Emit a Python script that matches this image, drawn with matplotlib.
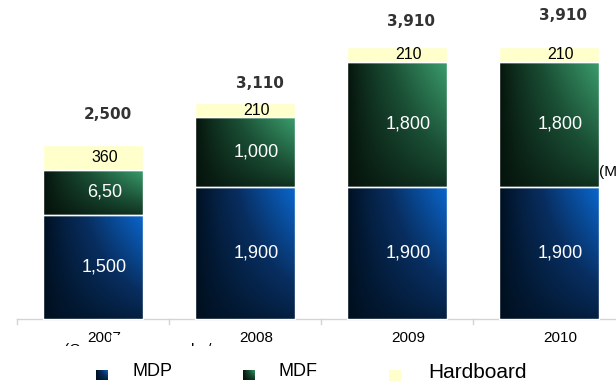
import matplotlib
matplotlib.use("Agg")
import matplotlib.pyplot as plt
import numpy as np
from matplotlib.colors import LinearSegmentedColormap
from matplotlib.patches import Rectangle

YEARS = ["2007", "2008", "2009", "2010"]
MDP = [1500, 1900, 1900, 1900]
MDF = [650, 1000, 1800, 1800]
HARDBOARD = [360, 210, 210, 210]
MDP_LABELS = ["1,500", "1,900", "1,900", "1,900"]
MDF_LABELS = ["6,50", "1,000", "1,800", "1,800"]
HB_LABELS = ["360", "210", "210", "210"]
TOTAL_LABELS = ["2,500", "3,110", "3,910", "3,910"]

# layout (pixels of the 616x382 canvas)
K = 0.0695            # px per unit
BASE = 319            # baseline row
STEP, X0, BAR_W = 152, 92.5, 100
TOTAL_PAD = [30, 19, 26, 32]
TXT_DX = 12

MDP_CMAP = LinearSegmentedColormap.from_list("mdp", ["#000f1e", "#082e60", "#0a66cc"])
MDF_CMAP = LinearSegmentedColormap.from_list("mdf", ["#05120b", "#1a4e34", "#3a9c6c"])
HB_COLOR = "#ffffcc"


def px(dy):
    """pixel distance -> data units"""
    return dy / K


def gradient():
    xf = np.linspace(0, 1, 80)[None, :]
    yf = np.linspace(0, 1, 80)[:, None]
    return (xf ** 0.8) * (0.25 + 0.75 * yf ** 0.8)


def grad_box(ax, x, y, w, h, cmap, edge="white"):
    rect = Rectangle((x, y), w, h, facecolor="none", edgecolor=edge, linewidth=1.0, zorder=3)
    ax.add_patch(rect)
    im = ax.imshow(gradient(), cmap=cmap, origin="lower", extent=(x, x + w, y, y + h),
                   aspect="auto", vmin=0, vmax=1, zorder=2, interpolation="bilinear")
    im.set_clip_path(rect)


fig = plt.figure(figsize=(6.16, 3.82), dpi=100)
ax = fig.add_axes([0, 0, 1, 1])
ax.axis("off")

centers = X0 + STEP * np.arange(len(YEARS))
sans = "Liberation Sans"

for i, c in enumerate(centers):
    left = c - BAR_W / 2
    grad_box(ax, left, 0, BAR_W, MDP[i], MDP_CMAP)
    grad_box(ax, left, MDP[i], BAR_W, MDF[i], MDF_CMAP)
    ax.add_patch(Rectangle((left, MDP[i] + MDF[i]), BAR_W, HARDBOARD[i],
                           facecolor=HB_COLOR, edgecolor="white", linewidth=1.0, zorder=3))
    tx = c + TXT_DX
    ax.text(tx, MDP[i] / 2, MDP_LABELS[i], ha="center", va="center",
            color="white", fontsize=13, family=sans, zorder=5)
    ax.text(tx, MDP[i] + MDF[i] / 2, MDF_LABELS[i], ha="center", va="center",
            color="white", fontsize=13, family=sans, zorder=5)
    ax.text(tx, MDP[i] + MDF[i] + HARDBOARD[i] / 2, HB_LABELS[i], ha="center", va="center",
            color="black", fontsize=11.5, family=sans, zorder=5)
    top = MDP[i] + MDF[i] + HARDBOARD[i]
    ax.text(c + 15, top + px(TOTAL_PAD[i]), TOTAL_LABELS[i], ha="center", va="center",
            color="#333333", fontsize=11, fontweight="bold", family="DejaVu Sans", zorder=5)
    ax.text(tx, px(-19), YEARS[i], ha="center", va="center",
            color="black", fontsize=11, family=sans, zorder=3)

# category axis
bounds = centers - STEP / 2
ax.plot([bounds[0], 616], [0, 0], color="#d4d4d4", lw=1.0, zorder=1, clip_on=False)
for b in bounds:
    ax.plot([b, b], [0, px(-5)], color="#d4d4d4", lw=1.0, zorder=1)

# clipped remnants of the original axis title (only the tops show)
ax.text(64, px(-24), "(Consumer", ha="left", va="top",
        fontsize=11, family=sans, color="black", zorder=2)
ax.text(191, px(-24), "l   /", ha="left", va="top",
        fontsize=11, family=sans, color="black", zorder=2)
ax.add_patch(Rectangle((111, px(-16)), 30, px(-12), facecolor="white", edgecolor="none", zorder=4))
ax.add_patch(Rectangle((55, px(-27)), 180, px(-18), facecolor="white", edgecolor="none", zorder=4))
ax.text(599, px(BASE - 172), "(MT)", ha="left", va="center", fontsize=11,
        family=sans, color="black", zorder=5)

# legend
leg_y = px(BASE - 375)
sq = px(11)
grad_box(ax, 96, leg_y - sq / 2, 12, sq, MDP_CMAP, edge="none")
grad_box(ax, 243, leg_y - sq / 2, 12, sq, MDF_CMAP, edge="none")
ax.add_patch(Rectangle((389, leg_y - sq / 2), 12, sq, facecolor=HB_COLOR, edgecolor="none", zorder=3))
ax.text(132, px(BASE - 372), "MDP", ha="left", va="center", fontsize=13, family=sans, zorder=5)
ax.text(278, px(BASE - 372), "MDF", ha="left", va="center", fontsize=13, family=sans, zorder=5)
ax.text(428, px(BASE - 372), "Hardboard", ha="left", va="center", fontsize=15, family=sans, zorder=5)

ax.set_xlim(0, 616)
ax.set_ylim(px(BASE - 382), px(BASE))

fig.savefig("out.png", dpi=100)
